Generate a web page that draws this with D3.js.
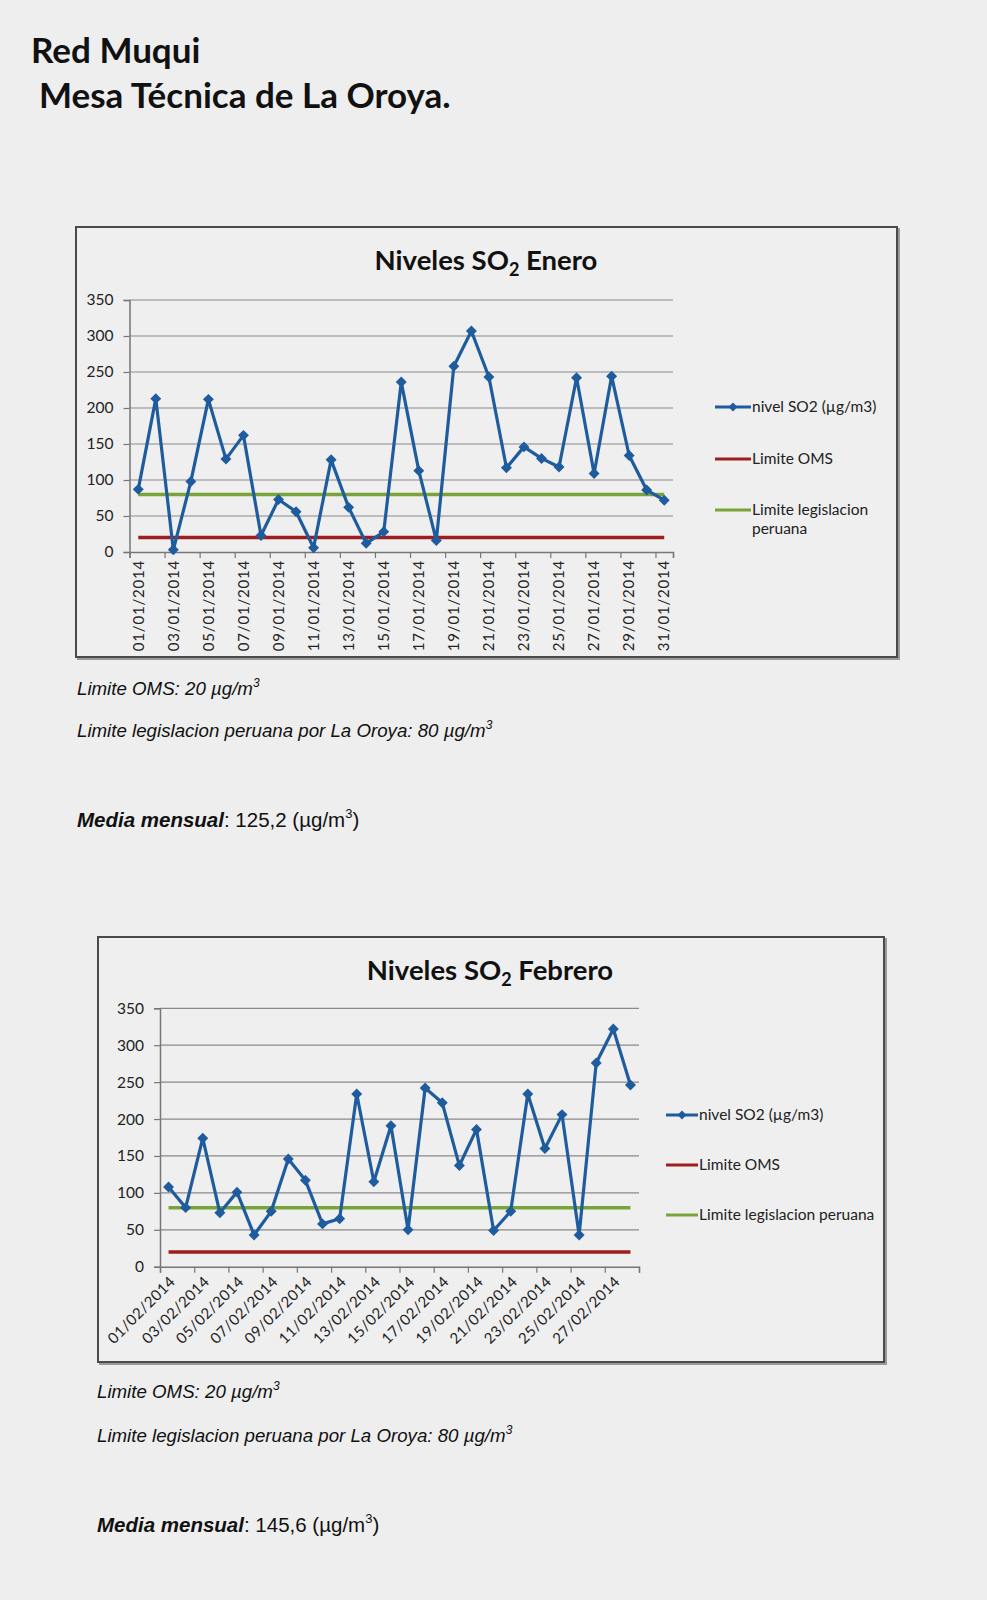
<!DOCTYPE html>
<html>
<head>
<meta charset="utf-8">
<script src="https://cdn.jsdelivr.net/npm/d3@7"></script>
<style>
  body { margin: 0; background: #eeeeee; }
  svg { display: block; }
</style>
</head>
<body>
<svg id="page" width="987" height="1600"></svg>
<script>
// ---------------- DATA ----------------
const fechasEnero = ["01/01/2014","02/01/2014","03/01/2014","04/01/2014","05/01/2014","06/01/2014","07/01/2014","08/01/2014","09/01/2014","10/01/2014","11/01/2014","12/01/2014","13/01/2014","14/01/2014","15/01/2014","16/01/2014","17/01/2014","18/01/2014","19/01/2014","20/01/2014","21/01/2014","22/01/2014","23/01/2014","24/01/2014","25/01/2014","26/01/2014","27/01/2014","28/01/2014","29/01/2014","30/01/2014","31/01/2014"];
const nivelEnero = [87,213,3,98,212,129,162,23,73,56,6,128,62,12,28,236,113,16,258,307,243,117,146,130,118,242,109,244,134,86,72];

const fechasFebrero = ["01/02/2014","02/02/2014","03/02/2014","04/02/2014","05/02/2014","06/02/2014","07/02/2014","08/02/2014","09/02/2014","10/02/2014","11/02/2014","12/02/2014","13/02/2014","14/02/2014","15/02/2014","16/02/2014","17/02/2014","18/02/2014","19/02/2014","20/02/2014","21/02/2014","22/02/2014","23/02/2014","24/02/2014","25/02/2014","26/02/2014","27/02/2014","28/02/2014"];
const nivelFebrero = [108,80,174,73,101,43,75,146,117,58,65,234,115,191,50,242,222,137,186,49,75,234,160,206,43,276,322,246];

const limiteOMS = 20;
const limitePeru = 80;
const yTicks = [0,50,100,150,200,250,300,350];
const serieNames = ["nivel SO2 (\u00b5g/m3)", "Limite OMS", "Limite legislacion peruana"];

const mediaEnero = "125,2";
const mediaFebrero = "145,6";

// ---------------- DRAWING ----------------
const svg = d3.select("#page");
const C_BLUE = "#1f5c9e", C_RED = "#9e1d1d", C_GREEN = "#79a33b";
const FONT_C = "Lato, 'Open Sans', sans-serif";
const FONT_A = "'Liberation Sans', Arial, sans-serif";

svg.append("text").attr("x", 31).attr("y", 63)
  .style("font-family", FONT_C).style("font-weight", 700).style("font-size", "35px").attr("fill", "#111")
  .text("Red Muqui");
svg.append("text").attr("x", 39).attr("y", 108)
  .style("font-family", FONT_C).style("font-weight", 700).style("font-size", "35px").attr("fill", "#111")
  .text("Mesa T\u00e9cnica de La Oroya.");

function drawChart(cfg) {
  const g = svg.append("g");
  // frame
  g.append("rect").attr("x", cfg.frame[0] + 2).attr("y", cfg.frame[1] + 2)
    .attr("width", cfg.frame[2]).attr("height", cfg.frame[3])
    .attr("fill", "none").attr("stroke", "#9a9a9a").attr("stroke-width", 2);
  g.append("rect").attr("x", cfg.frame[0]).attr("y", cfg.frame[1])
    .attr("width", cfg.frame[2]).attr("height", cfg.frame[3])
    .attr("fill", "#efefef").attr("stroke", "#4a4a4a").attr("stroke-width", 2);

  // title
  const t = g.append("text").attr("x", cfg.titleX).attr("y", cfg.titleY)
    .attr("text-anchor", "middle")
    .style("font-family", FONT_C).style("font-weight", 700).style("font-size", "27.5px").attr("fill", "#111");
  t.append("tspan").text("Niveles SO");
  t.append("tspan").attr("dy", 6).style("font-size", "18px").text("2");
  t.append("tspan").attr("dy", -6).text(" " + cfg.month);

  const x = d3.scaleBand().domain(cfg.dates).range([cfg.left, cfg.right]).padding(0);
  const xl = d3.scaleLinear().domain([0, cfg.dates.length]).range([cfg.left, cfg.right]);
  const y = d3.scaleLinear().domain([0, 350]).range([cfg.bottom, cfg.top]);
  const cx = d => x(d) + x.bandwidth() / 2;

  // gridlines
  g.append("g").selectAll("line").data(yTicks.filter(v => v > 0)).join("line")
    .attr("x1", cfg.left).attr("x2", cfg.right)
    .attr("y1", d => y(d)).attr("y2", d => y(d))
    .attr("stroke", "#8a8a8a").attr("stroke-width", 1.2);

  // y axis
  const ya = g.append("g").attr("transform", `translate(${cfg.left},0)`)
    .call(d3.axisLeft(y).tickValues(yTicks).tickSize(6).tickPadding(10).tickFormat(d3.format("d")));
  ya.select(".domain").attr("stroke", "#777").attr("stroke-width", 1.5);
  ya.selectAll(".tick line").attr("stroke", "#777").attr("stroke-width", 1.2);
  ya.selectAll("text").style("font-family", FONT_C).style("font-size", "15.5px").attr("fill", "#222");

  // x axis ticks (every two categories)
  const xt = d3.range(0, cfg.dates.length + 1, 2);
  if (xt[xt.length - 1] !== cfg.dates.length) xt.push(cfg.dates.length);
  const xa = g.append("g").attr("transform", `translate(0,${cfg.bottom})`)
    .call(d3.axisBottom(xl).tickValues(xt).tickSize(6).tickFormat(""));
  xa.select(".domain").attr("stroke", "#777").attr("stroke-width", 1.5);
  xa.selectAll(".tick line").attr("stroke", "#777").attr("stroke-width", 1.2);

  // x labels
  const labs = cfg.dates.filter((d, i) => i % 2 === 0);
  const lg = g.append("g");
  if (cfg.rot === -90) {
    lg.selectAll("text").data(labs).join("text")
      .attr("transform", d => `translate(${cx(d)},${cfg.bottom + 8}) rotate(-90)`)
      .attr("text-anchor", "end").attr("dy", "0.35em")
      .style("font-family", FONT_C).style("font-size", "15px").style("letter-spacing", "0.8px")
      .attr("fill", "#222").text(d => d);
  } else {
    lg.selectAll("text").data(labs).join("text")
      .attr("transform", d => `translate(${cx(d) + 4},${cfg.bottom + 12}) rotate(-45)`)
      .attr("text-anchor", "end").attr("dy", "0.35em")
      .style("font-family", FONT_C).style("font-size", "15px").style("letter-spacing", "0.5px")
      .attr("fill", "#222").text(d => d);
  }

  // limit lines
  const first = cx(cfg.dates[0]), last = cx(cfg.dates[cfg.dates.length - 1]);
  g.append("line").attr("x1", first).attr("x2", last)
    .attr("y1", y(limitePeru)).attr("y2", y(limitePeru))
    .attr("stroke", C_GREEN).attr("stroke-width", 3.5);
  g.append("line").attr("x1", first).attr("x2", last)
    .attr("y1", y(limiteOMS)).attr("y2", y(limiteOMS))
    .attr("stroke", C_RED).attr("stroke-width", 3.5);

  // series
  const line = d3.line().x((d, i) => cx(cfg.dates[i])).y(d => y(d));
  g.append("path").datum(cfg.values).attr("d", line)
    .attr("fill", "none").attr("stroke", C_BLUE).attr("stroke-width", 3.2).attr("stroke-linejoin", "round");
  const sym = d3.symbol().type(d3.symbolSquare).size(60);
  g.append("g").selectAll("path").data(cfg.values).join("path")
    .attr("d", sym)
    .attr("transform", (d, i) => `translate(${cx(cfg.dates[i])},${y(d)}) rotate(45)`)
    .attr("fill", C_BLUE);

  // legend
  const L = cfg.legend;
  const colors = [C_BLUE, C_RED, C_GREEN];
  serieNames.forEach((name, i) => {
    const yy = L.rows[i];
    g.append("line").attr("x1", L.x1).attr("x2", L.x2).attr("y1", yy).attr("y2", yy)
      .attr("stroke", colors[i]).attr("stroke-width", 3);
    if (i === 0) {
      g.append("path").attr("d", d3.symbol().type(d3.symbolSquare).size(40)())
        .attr("transform", `translate(${(L.x1 + L.x2) / 2},${yy}) rotate(45)`).attr("fill", C_BLUE);
    }
    const tx = g.append("text").attr("x", L.tx).attr("y", yy).attr("dy", "0.35em")
      .style("font-family", FONT_C).style("font-size", "15.5px").attr("fill", "#222");
    if (i === 2 && L.wrap) {
      const parts = name.split(" ");
      tx.text(parts.slice(0, 2).join(" "));
      g.append("text").attr("x", L.tx).attr("y", yy + 19).attr("dy", "0.35em")
        .style("font-family", FONT_C).style("font-size", "15.5px").attr("fill", "#222")
        .text(parts[2]);
    } else {
      tx.text(name);
    }
  });

  // notes below
  const N = cfg.notes;
  const n1 = g.append("text").attr("x", N.x).attr("y", N.y[0])
    .style("font-family", FONT_A).style("font-style", "italic").style("font-size", "18.7px").attr("fill", "#111");
  n1.append("tspan").text("Limite OMS: " + limiteOMS + " \u00b5g/m");
  n1.append("tspan").attr("dy", -8).style("font-size", "12px").text("3");
  const n2 = g.append("text").attr("x", N.x).attr("y", N.y[1])
    .style("font-family", FONT_A).style("font-style", "italic").style("font-size", "18.7px").attr("fill", "#111");
  n2.append("tspan").text("Limite legislacion peruana por La Oroya: " + limitePeru + " \u00b5g/m");
  n2.append("tspan").attr("dy", -8).style("font-size", "12px").text("3");
  const n3 = g.append("text").attr("x", N.x).attr("y", N.y[2])
    .style("font-family", FONT_A).style("font-size", "20.5px").attr("fill", "#111");
  n3.append("tspan").style("font-weight", 700).style("font-style", "italic").text("Media mensual");
  n3.append("tspan").text(": " + cfg.media + " (\u00b5g/m");
  n3.append("tspan").attr("dy", -9).style("font-size", "13px").text("3");
  n3.append("tspan").attr("dy", 9).text(")");
}

drawChart({
  month: "Enero", dates: fechasEnero, values: nivelEnero, media: mediaEnero,
  frame: [76, 227, 821, 430],
  left: 129.5, right: 673, top: 300, bottom: 552,
  titleX: 486, titleY: 270, rot: -90,
  legend: { x1: 715, x2: 751, tx: 752, rows: [407, 459, 510], wrap: true },
  notes: { x: 77, y: [695, 737, 827] }
});

drawChart({
  month: "Febrero", dates: fechasFebrero, values: nivelFebrero, media: mediaFebrero,
  frame: [98, 937, 786, 425],
  left: 160, right: 639, top: 1008.3, bottom: 1266.7,
  titleX: 490, titleY: 980, rot: -45,
  legend: { x1: 666, x2: 698, tx: 699, rows: [1115, 1165, 1215], wrap: false },
  notes: { x: 97, y: [1398, 1442, 1532] }
});
</script>
</body>
</html>
